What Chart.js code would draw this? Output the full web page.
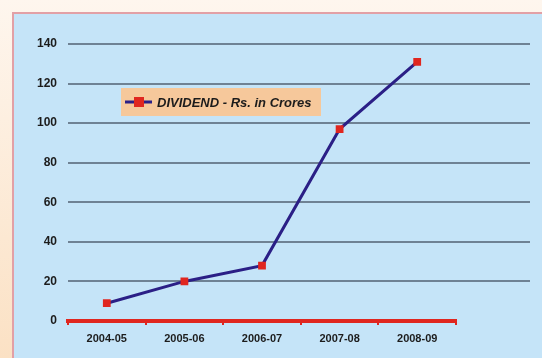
<!DOCTYPE html>
<html>
<head>
<meta charset="utf-8">
<script src="https://cdn.jsdelivr.net/npm/chart.js@4"></script>
<style>
  html, body { margin: 0; padding: 0; }
  body {
    width: 542px; height: 358px; overflow: hidden; position: relative;
    background: linear-gradient(to bottom, #fef6ee, #fbe1c4);
  }
  #panel {
    position: absolute; left: 12px; top: 12px; width: 540px; height: 360px;
    background: #c5e4f8; border-top: 2px solid #e2a0a6; border-left: 2px solid #e2a0a6;
  }
  #wrap { position: absolute; left: 0; top: 0; width: 542px; height: 358px; }
</style>
</head>
<body>
<div id="panel"></div>
<div id="wrap"><canvas id="dividendChart"></canvas></div>
<script>
// years on the x axis
const years = ["2004-05", "2005-06", "2006-07", "2007-08", "2008-09"];
// dividend, Rs. in crores
const dividend = [9, 20, 28, 97, 131];
const seriesName = "DIVIDEND - Rs. in Crores";

const lineColor = "#2b1f86";
const markColor = "#e0261f";

// horizontal grid lines run past the end of the x axis
const longGrid = {
    id: 'longGrid',
    beforeDatasetsDraw(chart) {
        const ctx = chart.ctx;
        const y = chart.scales.y;
        ctx.save();
        ctx.strokeStyle = "#6f8294";
        ctx.lineWidth = 2;
        y.ticks.forEach(t => {
            if (t.value === 0) return;
            const py = Math.round(y.getPixelForValue(t.value));
            ctx.beginPath();
            ctx.moveTo(chart.chartArea.left, py);
            ctx.lineTo(530, py);
            ctx.stroke();
        });
        ctx.restore();
    }
};

// boxed legend sitting inside the plot
const boxLegend = {
    id: 'boxLegend',
    afterDatasetsDraw(chart) {
        const ctx = chart.ctx;
        const x0 = 121, y0 = 88, w = 200, h = 28;
        ctx.save();
        ctx.fillStyle = "#f6c89b";
        ctx.fillRect(x0, y0, w, h);
        const cy = y0 + h / 2;
        ctx.strokeStyle = lineColor;
        ctx.lineWidth = 3;
        ctx.beginPath();
        ctx.moveTo(x0 + 4, cy);
        ctx.lineTo(x0 + 31, cy);
        ctx.stroke();
        ctx.fillStyle = markColor;
        ctx.fillRect(x0 + 13, cy - 5, 10, 10);
        ctx.fillStyle = "#1c1c1c";
        ctx.font = "italic bold 13px 'Liberation Sans', Arial, sans-serif";
        ctx.textBaseline = "middle";
        ctx.fillText(chart.data.datasets[0].label, x0 + 36, cy + 1);
        ctx.restore();
    }
};

const context = document.getElementById("dividendChart").getContext("2d");

const config = {
    type: 'line',
    data: {
        labels: years,
        datasets: [{
            label: seriesName,
            data: dividend,
            borderColor: lineColor,
            borderWidth: 3,
            pointStyle: 'rect',
            pointRadius: 5.5,
            pointBackgroundColor: markColor,
            pointBorderColor: markColor,
            pointBorderWidth: 0,
            tension: 0
        }]
    },
    options: {
        responsive: false,
        animation: false,
        layout: { padding: { top: 44, right: 86, left: 0, bottom: 0 } },
        plugins: {
            legend: { display: false },
            tooltip: { enabled: false }
        },
        scales: {
            x: {
                offset: true,
                grid: {
                    offset: true,
                    drawOnChartArea: false,
                    color: markColor,
                    lineWidth: 2,
                    tickLength: 4
                },
                border: { color: markColor, width: 4 },
                ticks: {
                    color: "#1c1c1c",
                    padding: 7,
                    maxRotation: 0,
                    font: { family: "'Liberation Sans', Arial, sans-serif", size: 11, weight: 'bold' }
                },
                afterFit(s) { s.height = 37; }
            },
            y: {
                min: 0,
                max: 140,
                grid: { display: false, drawTicks: false },
                border: { display: false },
                ticks: {
                    stepSize: 20,
                    padding: 11,
                    color: "#1c1c1c",
                    font: { family: "'Liberation Sans', Arial, sans-serif", size: 12, weight: 'bold' }
                },
                afterFit(s) { s.width = 68; }
            }
        }
    },
    plugins: [longGrid, boxLegend]
};

const canvas = document.getElementById("dividendChart");
canvas.width = 542;
canvas.height = 358;
const dividendChart = new Chart(context, config);
</script>
</body>
</html>
